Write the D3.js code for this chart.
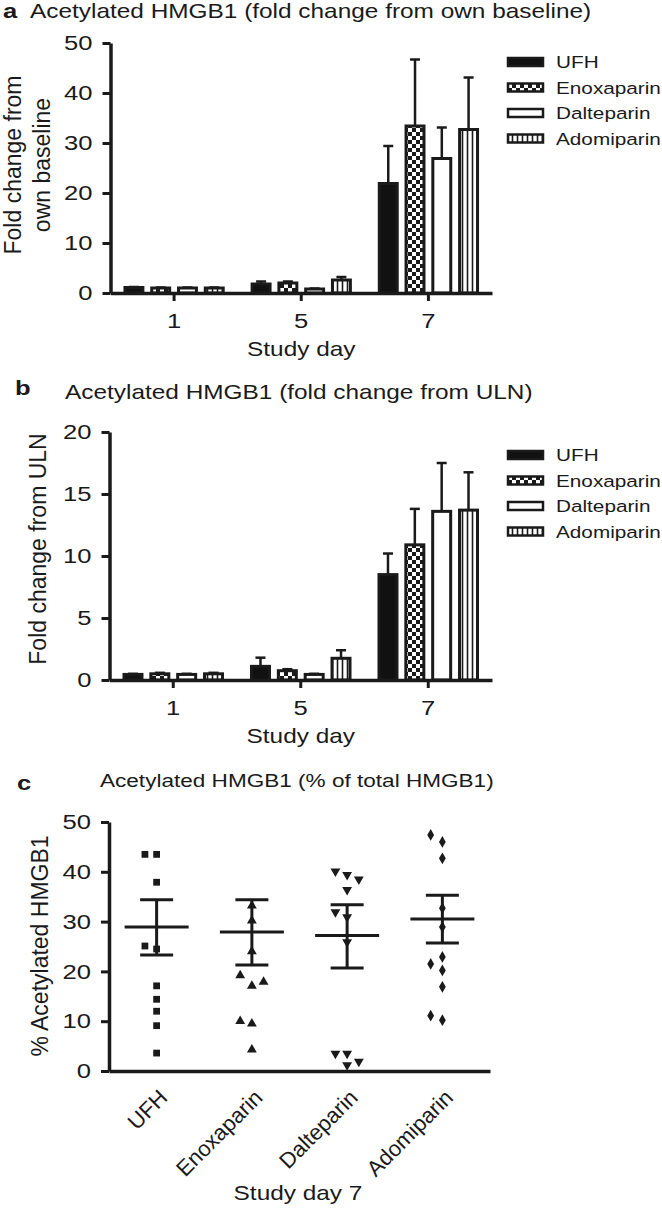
<!DOCTYPE html>
<html>
<head>
<meta charset="utf-8">
<script src="https://cdnjs.cloudflare.com/ajax/libs/d3/7.8.5/d3.min.js"></script>
<style>
  body { margin: 0; background: #fff; }
  svg { display: block; }
</style>
</head>
<body>
<div id="chart"></div>
<script>
// data

var days = ["1", "5", "7"];
var drugs = ["UFH", "Enoxaparin", "Dalteparin", "Adomiparin"];

// panel a: fold change from own baseline, rows = day, cols = drug
var baseMean = [[1.1, 1.0, 1.0, 1.0], [1.8, 2.0, 0.8, 2.6], [21.9, 33.4, 26.9, 32.7]];
var baseErr  = [[0.1, 0.1, 0.1, 0.1], [0.5, 0.3, 0.1, 0.6], [7.5, 13.3, 6.2, 10.4]];
var baseTicks = [0, 10, 20, 30, 40, 50];

// panel b: fold change from ULN
var ulnMean = [[0.45, 0.5, 0.45, 0.5], [1.1, 0.75, 0.45, 1.75], [8.5, 10.9, 13.6, 13.7]];
var ulnErr  = [[0.05, 0.08, 0.05, 0.08], [0.7, 0.12, 0.05, 0.65], [1.7, 2.9, 3.9, 3.05]];
var ulnTicks = [0, 5, 10, 15, 20];

// panel c: % acetylated of total, day 7, individual patients
var pctUFH  = [43.5, 43.5, 37.9, 24.5, 25.1, 17.1, 14.4, 12.0, 9.1, 3.6];
var pctEnox = [33.2, 30.2, 24.0, 17.1, 19.2, 17.9, 9.5, 10.0, 4.3];
var pctDalt = [39.4, 40.1, 38.5, 36.4, 30.9, 31.9, 25.9, 3.5, 3.5, 1.2, 1.9];
var pctAdom = [46.0, 47.4, 42.7, 32.7, 28.9, 22.9, 21.5, 20.2, 16.9, 10.2, 11.1];
var pctMean  = [28.9, 27.9, 27.2, 30.5];
var pctSemLo = [23.3, 21.3, 20.7, 25.7];
var pctSemHi = [34.4, 34.4, 33.4, 35.3];
var pctTicks = [0, 10, 20, 30, 40, 50];


var width = 662, height = 1210;
var S = 1.22;   // the figure's lettering is set a bit wide
var FONT = "'Liberation Sans', Arial, Helvetica, sans-serif";
var INK = "#1a1a1a";

var svg = d3.select("#chart").append("svg")
    .attr("width", width)
    .attr("height", height)
    .attr("font-family", FONT)
    .attr("fill", INK);

svg.append("rect").attr("width", width).attr("height", height).attr("fill", "#fff");

// fill patterns
var defs = svg.append("defs");
var check = defs.append("pattern")
    .attr("id", "check")
    .attr("width", 8).attr("height", 8)
    .attr("patternUnits", "userSpaceOnUse");
check.append("rect").attr("width", 8).attr("height", 8).attr("fill", INK);
check.append("rect").attr("width", 4).attr("height", 4).attr("fill", "#fff");
check.append("rect").attr("x", 4).attr("y", 4).attr("width", 4).attr("height", 4).attr("fill", "#fff");

var stripe = defs.append("pattern")
    .attr("id", "stripe")
    .attr("width", 5).attr("height", 10)
    .attr("patternUnits", "userSpaceOnUse");
stripe.append("rect").attr("width", 5).attr("height", 10).attr("fill", "#fff");
stripe.append("line")
    .attr("x1", 2.5).attr("x2", 2.5).attr("y1", 0).attr("y2", 10)
    .attr("stroke", INK).attr("stroke-width", 1.6);

var fills = ["#111", "url(#check)", "#fff", "url(#stripe)"];

// text helpers
function txt(g, x, y, s, size, anchor, bold) {
  return g.append("text")
    .attr("transform", "translate(" + x + "," + y + ") scale(" + S + ",1)")
    .attr("font-size", size)
    .attr("text-anchor", anchor || "start")
    .attr("font-weight", bold ? "bold" : null)
    .text(s);
}

function vtxt(g, x, y, s, size) {
  return g.append("text")
    .attr("transform", "translate(" + x + "," + y + ") rotate(-90)")
    .attr("font-size", size)
    .attr("text-anchor", "middle")
    .text(s);
}

function styleAxis(sel, size) {
  sel.attr("font-family", FONT).attr("font-size", size);
  sel.select(".domain").attr("stroke", INK).attr("stroke-width", 3.5);
  sel.selectAll(".tick line").attr("stroke", INK).attr("stroke-width", 3);
  sel.selectAll(".tick text").attr("fill", INK).each(function() {
    var t = d3.select(this);
    var tx = +t.attr("x") || 0, ty = +t.attr("y") || 0;
    t.attr("x", 0).attr("y", 0)
      .attr("transform", "translate(" + tx + "," + ty + ") scale(" + S + ",1)");
  });
}

function yAxis(g, y, ticks, x0) {
  g.append("g")
    .attr("transform", "translate(" + x0 + ",0)")
    .call(d3.axisLeft(y).tickValues(ticks).tickSize(8).tickSizeOuter(0).tickPadding(10))
    .call(styleAxis, 21);
}


/* Bar panels (a, b) */
/* ================= */

function barPanel(p) {
  var g = svg.append("g");

  var x = d3.scaleBand().domain(days).range([p.x0, p.x1]);
  var xs = d3.scaleBand().domain(drugs)
      .range([0, x.bandwidth()])
      .paddingInner(0.33)
      .paddingOuter(0.54);
  var y = d3.scaleLinear().domain([0, p.max]).range([p.yBottom, p.yTop]);

  var rows = [];
  days.forEach(function(d, i) {
    drugs.forEach(function(dr, j) {
      rows.push({day: d, drug: dr, j: j, v: p.mean[i][j], e: p.err[i][j]});
    });
  });

  // error bars (upper only)
  var eb = g.append("g").attr("stroke", INK).attr("stroke-width", 2.5);
  rows.forEach(function(r) {
    var cx = x(r.day) + xs(r.drug) + xs.bandwidth() / 2;
    eb.append("line")
      .attr("x1", cx).attr("x2", cx)
      .attr("y1", y(r.v)).attr("y2", y(r.v + r.e));
    eb.append("line")
      .attr("x1", cx - 5).attr("x2", cx + 5)
      .attr("y1", y(r.v + r.e)).attr("y2", y(r.v + r.e));
  });

  g.selectAll("rect.bar")
    .data(rows)
    .enter().append("rect")
      .attr("class", "bar")
      .attr("x", function(d) { return x(d.day) + xs(d.drug); })
      .attr("width", xs.bandwidth())
      .attr("y", function(d) { return y(d.v); })
      .attr("height", function(d) { return y(0) - y(d.v); })
      .attr("fill", function(d) { return fills[d.j]; })
      .attr("stroke", INK)
      .attr("stroke-width", 3);

  // axes
  g.append("g")
    .attr("transform", "translate(0," + p.yBottom + ")")
    .call(d3.axisBottom(x).tickSize(8).tickSizeOuter(0).tickPadding(12))
    .call(styleAxis, 21);
  yAxis(g, y, p.ticks, p.x0);

  txt(g, (p.x0 + p.x1) / 2, p.yBottom + 63, "Study day", 20, "middle");

  // legend
  drugs.forEach(function(dr, j) {
    var ly = p.legendY + j * 25.5;
    g.append("rect")
      .attr("x", 508).attr("y", ly - 4)
      .attr("width", 35).attr("height", 8)
      .attr("fill", fills[j])
      .attr("stroke", INK)
      .attr("stroke-width", 2.5);
    txt(g, 556, ly + 6, dr, 17);
  });

  return g;
}

var ga = barPanel({
  x0: 110.5, x1: 492, yTop: 43, yBottom: 293, max: 50,
  mean: baseMean, err: baseErr, ticks: baseTicks, legendY: 62
});
txt(ga, 3, 18, "a", 21, "start", true);
txt(ga, 30, 18, "Acetylated HMGB1 (fold change from own baseline)", 20);
vtxt(ga, 21, 165, "Fold change from", 23);
vtxt(ga, 50, 165, "own baseline", 23);

var gb = barPanel({
  x0: 109.5, x1: 492, yTop: 432, yBottom: 680, max: 20,
  mean: ulnMean, err: ulnErr, ticks: ulnTicks, legendY: 455
});
txt(gb, 15, 395, "b", 21, "start", true);
txt(gb, 65, 399, "Acetylated HMGB1 (fold change from ULN)", 20);
vtxt(gb, 46, 549, "Fold change from ULN", 23);


/* Scatter panel (c) */
/* ================= */

var gc = svg.append("g");
var xc = d3.scaleBand().domain(drugs).range([109, 490]);
var yc = d3.scaleLinear().domain([0, 50]).range([1071, 822]);

var pctGroups = [pctUFH, pctEnox, pctDalt, pctAdom];
var shapes = [
  {type: d3.symbolSquare, size: 46, rot: 0},
  {type: d3.symbolTriangle, size: 42, rot: 0},
  {type: d3.symbolTriangle, size: 42, rot: 180},
  {type: d3.symbolDiamond, size: 40, rot: 0}
];

// spread points that would sit on top of each other (column scatter)
function spread(vals, y, minGap) {
  var placed = [];
  return vals.map(function(v) {
    var slots = [0, -1, 1, -2, 2];
    for (var k = 0; k < slots.length; k++) {
      var s = slots[k];
      var hit = placed.some(function(p) {
        return p.slot === s && Math.abs(y(p.v) - y(v)) < minGap;
      });
      if (!hit) { placed.push({v: v, slot: s}); return s; }
    }
    return 0;
  });
}

pctGroups.forEach(function(vals, j) {
  var cx = xc(drugs[j]) + xc.bandwidth() / 2;
  var slots = spread(vals, yc, 11);
  var sym = d3.symbol().type(shapes[j].type).size(shapes[j].size);

  gc.append("g").selectAll("path")
    .data(vals)
    .enter().append("path")
      .attr("d", sym)
      .attr("transform", function(d, i) {
        return "translate(" + (cx + slots[i] * 11.7) + "," + yc(d) + ") rotate(" + shapes[j].rot + ")";
      })
      .attr("fill", INK);

  // mean and SEM
  var m = gc.append("g").attr("stroke", INK).attr("stroke-width", 3);
  m.append("line")
    .attr("x1", cx - 32).attr("x2", cx + 32)
    .attr("y1", yc(pctMean[j])).attr("y2", yc(pctMean[j]));
  m.append("line")
    .attr("x1", cx).attr("x2", cx)
    .attr("y1", yc(pctSemLo[j])).attr("y2", yc(pctSemHi[j]));
  [pctSemLo[j], pctSemHi[j]].forEach(function(v) {
    m.append("line")
      .attr("x1", cx - 16.5).attr("x2", cx + 16.5)
      .attr("y1", yc(v)).attr("y2", yc(v));
  });
});

var xAxisC = gc.append("g")
  .attr("transform", "translate(0,1071)")
  .call(d3.axisBottom(xc).tickSize(0).tickSizeOuter(0).tickFormat(""))
  .call(styleAxis, 21);

drugs.forEach(function(dr) {
  var cx = xc(dr) + xc.bandwidth() / 2;
  gc.append("text")
    .attr("transform", "translate(" + (cx + 12) + "," + (1071 + 28) + ") rotate(-45)")
    .attr("font-size", 22)
    .attr("text-anchor", "end")
    .text(dr);
});

yAxis(gc, yc, pctTicks, 109);

txt(gc, 17, 790, "c", 21, "start", true);
txt(gc, 100, 787, "Acetylated HMGB1 (% of total HMGB1)", 18.5);
vtxt(gc, 48, 946, "% Acetylated HMGB1", 23);
txt(gc, 298, 1200, "Study day 7", 20, "middle");
</script>
</body>
</html>
